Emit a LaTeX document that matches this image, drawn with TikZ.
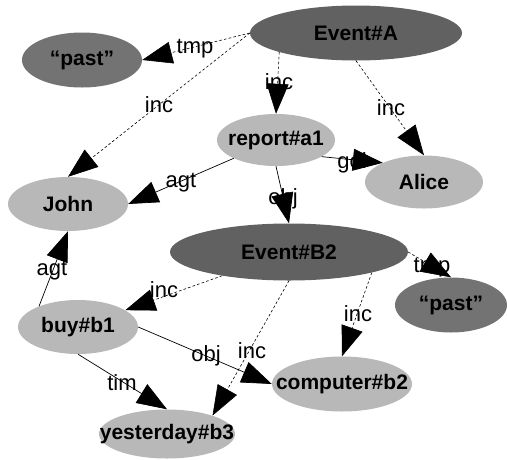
\documentclass[tikz,border=0pt]{standalone}
\usepackage{fontspec}
\setmainfont{Liberation Sans}
\usetikzlibrary{shapes.geometric,arrows.meta}
\begin{document}
\begin{tikzpicture}[x=1pt,y=-1pt,
  ell/.style={ellipse,inner sep=0pt,font=\fontsize{21}{21}\bfseries\selectfont},
  evt/.style={ell,fill=black!62},
  pst/.style={ell,fill=black!55},
  lgt/.style={ell,fill=black!28},
  lab/.style={font=\fontsize{22}{22}\selectfont,inner sep=0pt},
  rel/.style={line width=0.7pt,-{Triangle[length=30pt,width=22pt]}},
  drel/.style={rel,dash pattern=on 2.6pt off 2.2pt,line width=0.6pt},
]
\useasboundingbox (0,0) rectangle (507,459);
% edge labels (drawn first, connectors go over them)
\node[lab] (l1) at (195,49) {tmp};
\node[lab] (l2) at (159,105) {inc};
\node[lab] (l3) at (279,82) {inc};
\node[lab] (l4) at (391,108) {inc};
\node[lab] (l5) at (181,183) {agt};
\node[lab] (l6) at (352,163) {gol};
\node[lab] (l7) at (283,199) {obj};
\node[lab] (l8) at (432,268) {tmp};
\node[lab] (l9) at (164,290) {inc};
\node[lab] (l10) at (358,314) {inc};
\node[lab] (l11) at (252,351) {inc};
\node[lab] (l12) at (52,271) {agt};
\node[lab] (l13) at (206,356) {obj};
\node[lab] (l14) at (122,383) {tim};
% nodes
\node[evt,minimum width=212pt,minimum height=55pt] (A) at (356,33) {\makebox[0pt]{Event\#A}};
\node[pst,minimum width=120pt,minimum height=55pt] (P1) at (82,60) {\makebox[0pt]{“past”}};
\node[lgt,minimum width=118pt,minimum height=52pt] (R) at (276,140) {\makebox[0pt]{report\#a1}};
\node[lgt,minimum width=118pt,minimum height=53pt] (Al) at (424,182) {\makebox[0pt]{Alice}};
\node[lgt,minimum width=120pt,minimum height=54pt] (J) at (68,204) {\makebox[0pt]{John}};
\node[evt,minimum width=238pt,minimum height=57pt] (B2) at (289,252) {\makebox[0pt]{Event\#B2}};
\node[pst,minimum width=112pt,minimum height=55pt] (P2) at (451,305) {\makebox[0pt]{“past”}};
\node[lgt,minimum width=120pt,minimum height=54pt] (Bu) at (78,327) {\makebox[0pt]{buy\#b1}};
\node[lgt,minimum width=140pt,minimum height=55pt] (C) at (342,384) {\makebox[0pt]{computer\#b2}};
\node[lgt,minimum width=136pt,minimum height=49pt] (Y) at (167,434) {\makebox[0pt]{yesterday\#b3}};
% connectors
\draw[drel] (A.west) -- (P1.east);
\draw[drel] (A.west) -- (J.north);
\draw[drel] (A.194) -- (R.north);
\draw[drel] (A.south) -- (Al.north);
\draw[rel] (R) -- (J.east);
\draw[rel] (R.-20) -- (Al.155);
\draw[rel] (R.south) -- (B2.north);
\draw[drel] (B2.east) -- (P2.north);
\draw[drel] (B2) -- (Bu);
\draw[drel] (B2.-14) -- (C.north);
\draw[drel] (B2.south) -- (Y.22);
\draw[rel] (Bu.152) -- (J.south);
\draw[rel] (Bu.east) -- (C.west);
\draw[rel] (Bu.south) -- (Y.north);
\end{tikzpicture}
\end{document}
